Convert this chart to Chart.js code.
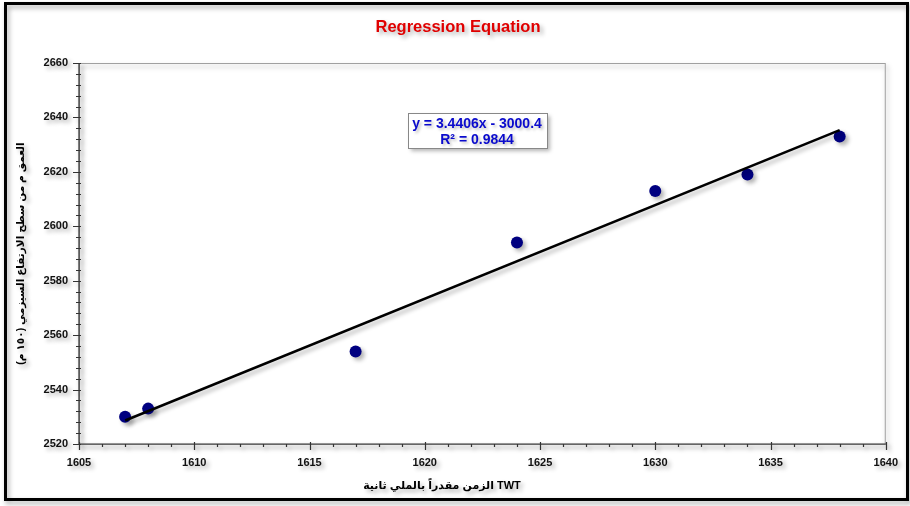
<!DOCTYPE html>
<html><head><meta charset="utf-8">
<script src="https://cdn.jsdelivr.net/npm/chart.js@4/dist/chart.umd.min.js"></script>
<style>html,body{margin:0;padding:0;background:#fff}canvas{display:block}</style>
</head><body>
<canvas id="c" width="910" height="506"></canvas>
<script>
// ---- data ----
const xValues = [1607, 1608, 1617, 1624, 1630, 1634, 1638];
const yValues = [2530, 2533, 2554, 2594, 2613, 2619, 2633];
const xTicks = [1605, 1610, 1615, 1620, 1625, 1630, 1635, 1640];
const yTicks = [2520, 2540, 2560, 2580, 2600, 2620, 2640, 2660];
const slope = 3.4406;
const intercept = -3000.4;
const trendX = [1607, 1638];
const titleText = 'Regression Equation';
const xTitle = 'الزمن مقدراً بالملي ثانية TWT';
const yTitle = 'العمق م من سطح الارتفاع السيزمي (١٥٠ م)\u200F';
const equationLines = ['y = 3.4406x - 3000.4', 'R\u00B2 = 0.9844'];

const trendY = trendX.map(x => slope * x + intercept);
const FONT = '"Liberation Sans", Arial, "DejaVu Sans", sans-serif';

const deco = {
  id: 'deco',
  beforeDraw(chart) {
    const ctx = chart.ctx, a = chart.chartArea;
    ctx.save();
    ctx.fillStyle = '#fff';
    ctx.fillRect(0, 0, chart.width, chart.height);
    ctx.shadowColor = 'rgba(0,0,0,0.35)';
    ctx.shadowBlur = 5; ctx.shadowOffsetX = 2; ctx.shadowOffsetY = 3;
    ctx.strokeStyle = '#000'; ctx.lineWidth = 3;
    ctx.strokeRect(5.5, 3.5, 902, 496);
    ctx.strokeStyle = '#a0a0a0'; ctx.lineWidth = 1;
    ctx.strokeRect(a.left + 0.5, a.top + 0.5, a.right - a.left - 1, a.bottom - a.top);
    ctx.restore();
    ctx.save();
    ctx.shadowColor = 'rgba(0,0,0,0.3)';
    ctx.shadowBlur = 4; ctx.shadowOffsetX = 3; ctx.shadowOffsetY = 3;
  },
  afterDraw(chart) {
    const ctx = chart.ctx, a = chart.chartArea;
    const xs = chart.scales.x, ys = chart.scales.y;
    // axis lines & ticks
    ctx.strokeStyle = '#333'; ctx.lineWidth = 1.2;
    ctx.beginPath();
    ctx.moveTo(a.left, a.top); ctx.lineTo(a.left, a.bottom); ctx.lineTo(a.right, a.bottom);
    for (let v = xTicks[0]; v <= xTicks[xTicks.length - 1]; v += 1) {
      const px = Math.round(xs.getPixelForValue(v)) + 0.5;
      const major = xTicks.includes(v);
      ctx.moveTo(px, a.bottom - (major ? 2 : 0));
      ctx.lineTo(px, a.bottom + (major ? 6 : 3));
    }
    for (let v = yTicks[0]; v <= yTicks[yTicks.length - 1]; v += 4) {
      const py = Math.round(ys.getPixelForValue(v)) + 0.5;
      const major = yTicks.includes(v);
      ctx.moveTo(a.left - (major ? 6 : 3), py);
      ctx.lineTo(a.left + 2, py);
    }
    ctx.stroke();
    // chart title
    ctx.font = 'bold 16.5px ' + FONT;
    ctx.fillStyle = '#e00000';
    ctx.textAlign = 'center'; ctx.textBaseline = 'middle';
    ctx.fillText(titleText, 458, 27);
    // x axis title
    ctx.font = 'bold 11px ' + FONT;
    ctx.fillStyle = '#000';
    ctx.fillText(xTitle, 442, 486);
    // equation box
    ctx.fillStyle = '#fff';
    ctx.fillRect(408, 113, 139, 35);
    ctx.shadowColor = 'rgba(0,0,0,0)';
    ctx.strokeStyle = '#888'; ctx.lineWidth = 1;
    ctx.strokeRect(408.5, 113.5, 139, 35);
    ctx.shadowColor = 'rgba(0,0,0,0.25)';
    ctx.shadowBlur = 3; ctx.shadowOffsetX = 2; ctx.shadowOffsetY = 2;
    ctx.font = 'bold 14px ' + FONT;
    ctx.fillStyle = '#0a0acd';
    ctx.fillText(equationLines[0], 477, 124);
    ctx.fillText(equationLines[1], 477, 140);
    ctx.restore();
  }
};

new Chart(document.getElementById('c'), {
  type: 'scatter',
  data: {
    datasets: [
      {
        label: 'Trend',
        data: trendX.map((x, i) => ({ x, y: trendY[i] })),
        showLine: true,
        borderColor: '#000',
        borderWidth: 2.5,
        pointRadius: 0,
        fill: false
      },
      {
        label: 'Depth',
        data: xValues.map((x, i) => ({ x, y: yValues[i] })),
        backgroundColor: '#000080',
        borderColor: '#000080',
        borderWidth: 0,
        pointRadius: 6
      }
    ]
  },
  options: {
    responsive: false,
    animation: false,
    devicePixelRatio: 1,
    layout: { padding: { top: 63, right: 19, left: 0, bottom: 0 } },
    plugins: { legend: { display: false }, tooltip: { enabled: false }, title: { display: false } },
    scales: {
      x: {
        type: 'linear', min: xTicks[0], max: xTicks[xTicks.length - 1],
        afterBuildTicks: s => { s.ticks = xTicks.map(v => ({ value: v })); },
        afterFit: s => { s.height = 62; },
        grid: { display: false, drawTicks: false },
        border: { display: false },
        ticks: { callback: v => String(v), color: '#111', padding: 12, maxRotation: 0,
                 font: { family: FONT, size: 11, weight: 'bold' } }
      },
      y: {
        type: 'linear', min: yTicks[0], max: yTicks[yTicks.length - 1],
        afterBuildTicks: s => { s.ticks = yTicks.map(v => ({ value: v })); },
        afterFit: s => { s.width = 79; },
        grid: { display: false, drawTicks: false },
        border: { display: false },
        ticks: { callback: v => String(v), color: '#111', padding: 11,
                 font: { family: FONT, size: 11, weight: 'bold' } },
        title: { display: true, text: yTitle, color: '#000', padding: { top: 15, bottom: 0 },
                 font: { family: FONT, size: 10.5, weight: 'bold' } }
      }
    }
  },
  plugins: [deco]
});
</script>
</body></html>
